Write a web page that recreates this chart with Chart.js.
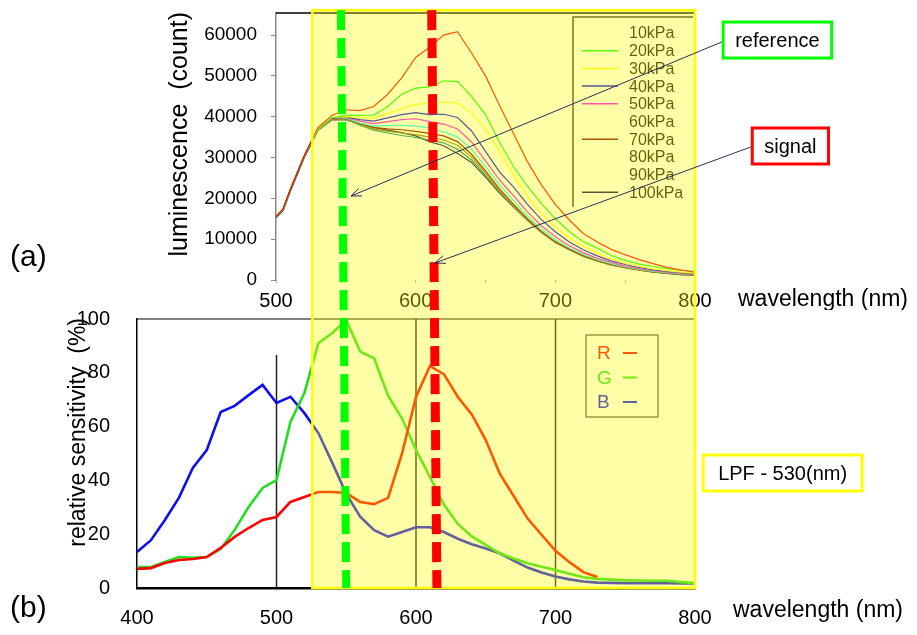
<!DOCTYPE html>
<html>
<head>
<meta charset="utf-8">
<script src="https://cdn.jsdelivr.net/npm/chart.js@4.4.1/dist/chart.umd.min.js"></script>
<style>
  html, body { margin: 0; padding: 0; background: #fff; }
  #wrap { position: relative; width: 917px; height: 635px; overflow: hidden; }
  #wrap canvas { position: absolute; left: 0; }
  #topChart { top: 0; }
  #bottomChart { top: 300px; }
  #overlay { top: 0; pointer-events: none; }
</style>
</head>
<body>
<div id="wrap">
  <canvas id="topChart" width="917" height="310"></canvas>
  <canvas id="bottomChart" width="917" height="335"></canvas>
  <canvas id="overlay" width="917" height="635"></canvas>
</div>
<script>
// (a) luminescence spectra per pressure
const wavelengthTop = [500, 505, 510, 520, 530, 540, 550, 560, 570, 580, 590, 600, 610, 620, 630, 640,
  650, 660, 670, 680, 690, 700, 710, 720, 730, 740, 750, 760, 770, 780, 790, 800];
const countTicks = [0, 10000, 20000, 30000, 40000, 50000, 60000];
const pressureLabels = ['10kPa', '20kPa', '30kPa', '40kPa', '50kPa', '60kPa', '70kPa', '80kPa', '90kPa', '100kPa'];
const pressureColors = ['#FF0000', '#00FF00', '#FFFF00', '#0000EE', '#FF00FF', '#00FFFF', '#800000', '#808000', '#008080', '#000066'];
const legendSample = [false, true, true, true, true, false, true, false, false, true];

const lum10 = [15600, 17400, 22000, 30300, 37300, 40300, 41700, 41500, 42500, 45500, 49500, 54500, 57000, 60000, 60800, 55600,
  50000, 42800, 35900, 29000, 23300, 18500, 14700, 11400, 9300, 7500, 6200, 5000, 4000, 3100, 2400, 1900];
const lum20 = [15500, 17300, 21900, 30200, 37000, 39800, 40300, 40300, 40400, 42500, 45500, 47000, 47300, 48800, 48600, 45000,
  40500, 33800, 27800, 23000, 18700, 15000, 11900, 9400, 7800, 6000, 4800, 3900, 3300, 2800, 2400, 2100];
const lum30 = [15500, 17300, 21900, 30200, 37000, 39800, 40000, 39800, 39600, 40800, 42000, 43000, 43300, 43600, 43300, 41000,
  37000, 31500, 25700, 20500, 16300, 13000, 10300, 8200, 6600, 5100, 4100, 3300, 2700, 2300, 1900, 1700];
const lum40 = [15400, 17200, 21800, 30100, 36900, 39600, 39900, 39300, 38900, 39700, 40500, 41000, 40500, 40600, 39800, 36500,
  31500, 26500, 22800, 18500, 14800, 11800, 9300, 7400, 5900, 4700, 3800, 3100, 2500, 2100, 1800, 1500];
const lum50 = [15400, 17200, 21800, 30100, 36900, 39500, 39800, 38900, 38300, 38800, 39300, 39500, 38800, 38200, 37000, 33800,
  29200, 24500, 20700, 16700, 13300, 10600, 8400, 6700, 5300, 4300, 3400, 2800, 2300, 1900, 1600, 1400];
const lum60 = [15400, 17200, 21800, 30000, 36800, 39500, 39700, 38500, 37700, 37800, 37900, 37700, 37300, 36300, 35000, 32000,
  27800, 23300, 19500, 15700, 12500, 9900, 7900, 6300, 5000, 4000, 3200, 2600, 2100, 1800, 1500, 1300];
const lum70 = [15400, 17200, 21700, 30000, 36800, 39400, 39600, 38300, 37300, 37000, 36800, 36400, 35900, 35300, 33900, 30800,
  26700, 22300, 18600, 15000, 11900, 9400, 7500, 6000, 4800, 3800, 3100, 2500, 2000, 1700, 1400, 1200];
const lum80 = [15300, 17100, 21700, 30000, 36700, 39300, 39500, 38100, 37000, 36400, 36000, 35600, 35000, 34300, 33000, 30100,
  26200, 21900, 18300, 14800, 11700, 9300, 7400, 5900, 4700, 3700, 3000, 2400, 1950, 1650, 1350, 1150];
const lum90 = [15300, 17100, 21600, 29900, 36700, 39300, 39400, 37900, 36700, 36000, 35400, 34900, 34300, 33600, 32000, 29400,
  25700, 21600, 18100, 14700, 11700, 9200, 7450, 5850, 4700, 3700, 3000, 2450, 1950, 1600, 1300, 1100];
const lum100 = [15200, 17000, 21600, 29900, 36600, 39200, 39300, 38300, 37400, 36700, 36100, 35300, 33900, 32900, 31000, 28800,
  25200, 21300, 17900, 14600, 11700, 9200, 7500, 5800, 4700, 3700, 3000, 2500, 2000, 1600, 1300, 1100];
const pressureSeries = [lum10, lum20, lum30, lum40, lum50, lum60, lum70, lum80, lum90, lum100];

// (b) relative sensitivity of the camera R/G/B channels
const wavelengthRGB = [400, 410, 420, 430, 440, 450, 460, 470, 480, 490, 500, 510, 520, 530, 540, 550, 560, 570, 580, 590,
  600, 610, 620, 630, 640, 650, 660, 670, 680, 690, 700, 710, 720, 730, 740, 750, 760, 770, 780, 790, 800];
const sensR = [7.1, 7.4, 9.3, 10.4, 10.8, 11.5, 14.9, 19, 22.3, 25.3, 26.4, 32, 33.8, 35.7, 35.7, 35.3, 32, 31.2, 33.5, 50,
  71, 82.5, 79.5, 71, 64.5, 55, 42.6, 34.2, 25.8, 19.8, 13.8, 9.6, 5.9, 4.1, null, null, null, null, null, null, null];
const sensG = [7.8, 7.8, 9.7, 11.5, 11.2, 11.5, 14.5, 21.6, 30.1, 37.2, 40.1, 61.7, 72.5, 91, 94.8, 99.6, 87.9, 85.4, 71.5, 63,
  51.3, 41.3, 31, 23.8, 19.2, 16, 12.9, 11, 9.2, 7.9, 6.7, 5.3, 4, 3.4, 3.1, 2.9, 2.8, 2.7, 2.7, 2.2, 1.8];
const sensB = [13.4, 17.8, 25.3, 33.5, 44.6, 51.3, 65.4, 67.7, 71.7, 75.5, 68.8, 71.1, 65, 57.6, 46.5, 35, 26.5, 21.5, 19.1, 20.8,
  22.6, 22.6, 20.8, 18.3, 16.3, 14.7, 12.9, 10.2, 7.6, 5.8, 4.3, 3.2, 2.4, 2, 1.9, 1.8, 1.8, 1.8, 1.8, 1.7, 1.7];
const rgbLabels = ['R', 'G', 'B'];
const rgbColors = ['#FF0000', '#22DD22', '#1010EE'];
const rgbGridNm = [500, 600, 700];
const rgbGridTop = [86.6, 100, 100];

// annotations (in data units of the charts)
const lpfRange = [526, 800];
const lpfTopCount = 66100;
const referenceNm = [546.5, 550];   // [top chart, bottom chart]
const signalNm = [611.5, 615];
const referenceBox = [859, 58780];
const referenceHead = [553.7, 20570];
const signalBox = [868.3, 32820];
const signalHead = [613.8, 4160];
const lpfBox = [862.8, 42.75];

const FONT = '"Liberation Sans", Arial, sans-serif';

function seg(ctx, x0, y0, x1, y1) {
    ctx.beginPath();
    ctx.moveTo(x0, y0);
    ctx.lineTo(x1, y1);
    ctx.stroke();
}

// rotated y title, its end lined up with the top of the plot
function yTitle(ctx, text, cx, top, size) {
    ctx.save();
    ctx.translate(cx, top);
    ctx.rotate(-Math.PI / 2);
    ctx.font = size + 'px ' + FONT;
    ctx.fillStyle = '#000';
    ctx.textAlign = 'right';
    ctx.textBaseline = 'middle';
    ctx.fillText(text, 0, 0);
    ctx.restore();
}

// the tick padding must not push the plot area down
function fixY(width) {
    return s => {
        s.width = width;
        s.paddingTop = 0;
        s.paddingBottom = 0;
    };
}

const topDecor = {
    id: 'topDecor',
    afterDraw(chart) {
        const { ctx, chartArea: a } = chart;
        ctx.save();
        ctx.strokeStyle = '#000';
        ctx.lineWidth = 1.5;
        seg(ctx, a.left, a.top, a.right, a.top);

        // legend box, only left and top edges show in the original
        const lx = a.right - 122, ly = a.top + 4;
        ctx.strokeStyle = '#333';
        ctx.beginPath();
        ctx.moveTo(lx, ly + 190);
        ctx.lineTo(lx, ly);
        ctx.lineTo(a.right - 2, ly);
        ctx.stroke();
        ctx.font = '16px ' + FONT;
        ctx.textAlign = 'left';
        ctx.textBaseline = 'middle';
        chart.data.datasets.forEach((ds, i) => {
            const y = ly + 16 + i * 17.7;
            if (legendSample[i]) {
                ctx.strokeStyle = ds.borderColor;
                ctx.lineWidth = 1.5;
                seg(ctx, lx + 9, y, lx + 45, y);
            }
            ctx.fillStyle = '#111';
            ctx.fillText(ds.label, lx + 56, y + 1);
        });

        ctx.fillStyle = '#000';
        ctx.font = '23px ' + FONT;
        ctx.fillText('wavelength (nm)', a.right + 43, a.bottom + 20);
        ctx.font = '30px ' + FONT;
        ctx.fillText('(a)', 10, 258);
        ctx.restore();
        yTitle(ctx, 'luminescence  (count)', 180, a.top - 1, 25);
    }
};

const bottomDecor = {
    id: 'bottomDecor',
    beforeDatasetsDraw(chart) {
        const { ctx, chartArea: a, scales: { x, y } } = chart;
        ctx.save();
        ctx.strokeStyle = '#000';
        ctx.lineWidth = 1;
        seg(ctx, a.left, a.top, a.right, a.top);
        ctx.strokeStyle = '#222';
        ctx.lineWidth = 1.5;
        rgbGridNm.forEach((nm, i) => {
            const px = x.getPixelForValue(nm);
            seg(ctx, px, y.getPixelForValue(rgbGridTop[i]), px, a.bottom);
        });
        ctx.restore();
    },
    afterDraw(chart) {
        const { ctx, chartArea: a } = chart;
        ctx.save();
        const lx = a.right - 109, ly = a.top + 16;
        ctx.strokeStyle = '#444';
        ctx.lineWidth = 1.2;
        ctx.strokeRect(lx, ly, 72, 82);
        ctx.font = '19px ' + FONT;
        ctx.textAlign = 'left';
        ctx.textBaseline = 'middle';
        rgbLabels.forEach((lab, i) => {
            const y = ly + 18 + i * 24.5;
            ctx.fillStyle = rgbColors[i];
            ctx.fillText(lab, lx + 11, y + 1);
            ctx.strokeStyle = rgbColors[i];
            ctx.lineWidth = 2;
            seg(ctx, lx + 37, y, lx + 51, y);
        });
        ctx.fillStyle = '#000';
        ctx.font = '23px ' + FONT;
        ctx.fillText('wavelength (nm)', a.right + 38, a.bottom + 23);
        ctx.font = '30px ' + FONT;
        ctx.fillText('(b)', 10, 309);
        ctx.restore();
        yTitle(ctx, 'relative sensitivity  (%)', 79, a.top - 1, 23);
    }
};

const topChart = new Chart(document.getElementById('topChart'), {
    type: 'line',
    data: {
        datasets: pressureSeries.map((vals, i) => ({
            label: pressureLabels[i],
            data: vals.map((v, j) => ({ x: wavelengthTop[j], y: v })),
            borderColor: pressureColors[i],
            borderWidth: 1.2,
            pointRadius: 0,
            tension: 0
        }))
    },
    options: {
        responsive: false,
        animation: false,
        layout: { padding: { left: 166, right: 222, top: 13, bottom: 0 } },
        plugins: { legend: { display: false }, tooltip: { enabled: false } },
        scales: {
            x: {
                type: 'linear', min: 500, max: 800,
                afterFit(s) { s.height = 30; },
                border: { display: false },
                grid: { drawOnChartArea: false, tickLength: 3, color: '#aaa' },
                ticks: {
                    stepSize: 50, padding: 6, maxRotation: 0, autoSkip: false, color: '#000',
                    font: { family: FONT, size: 20 },
                    callback: v => (v % 100 === 0 ? String(v) : '')
                }
            },
            y: {
                min: 0, max: 65400,
                afterFit: fixY(110),
                afterBuildTicks(s) { s.ticks = countTicks.map(v => ({ value: v })); },
                border: { color: '#888', width: 1.5 },
                grid: { drawOnChartArea: false, tickLength: 5, color: '#888' },
                ticks: { padding: 14, color: '#000', font: { family: FONT, size: 19 }, callback: v => String(v) }
            }
        }
    },
    plugins: [topDecor]
});

const bottomChart = new Chart(document.getElementById('bottomChart'), {
    type: 'line',
    data: {
        datasets: [sensR, sensG, sensB].map((vals, i) => ({
            label: rgbLabels[i],
            data: vals.map((v, j) => ({ x: wavelengthRGB[j], y: v })),
            borderColor: rgbColors[i],
            borderWidth: 2.6,
            pointRadius: 0,
            tension: 0
        }))
    },
    options: {
        responsive: false,
        animation: false,
        layout: { padding: { left: 65, right: 222, top: 19, bottom: 0 } },
        plugins: { legend: { display: false }, tooltip: { enabled: false } },
        scales: {
            x: {
                type: 'linear', min: 400, max: 800,
                afterFit(s) { s.height = 47; },
                border: { color: '#000', width: 2.5 },
                grid: { display: false },
                ticks: { stepSize: 100, padding: 10, maxRotation: 0, color: '#000', font: { family: FONT, size: 20 } }
            },
            y: {
                min: 0, max: 100,
                afterFit: fixY(72),
                border: { color: '#000', width: 1.5 },
                grid: { display: false },
                ticks: { stepSize: 20, padding: 19, color: '#000', font: { family: FONT, size: 20 } }
            }
        }
    },
    plugins: [bottomDecor]
});

// overlay: LPF band, reference/signal markers, callouts
function drawOverlay() {
    const ctx = document.getElementById('overlay').getContext('2d');
    const tx = topChart.scales.x, ty = topChart.scales.y;
    const bx = bottomChart.scales.x, by = bottomChart.scales.y;
    const off = bottomChart.canvas.offsetTop;

    const x0 = tx.getPixelForValue(lpfRange[0]);
    const x1 = tx.getPixelForValue(lpfRange[1]);
    const yTop = ty.getPixelForValue(lpfTopCount);
    const yBot = off + by.getPixelForValue(0);
    ctx.fillStyle = 'rgba(255,255,0,0.34)';
    ctx.fillRect(x0, yTop, x1 - x0, yBot - yTop);
    ctx.strokeStyle = '#FFFF00';
    ctx.lineWidth = 2.5;
    ctx.strokeRect(x0, yTop, x1 - x0, yBot - yTop);

    [[referenceNm, '#00FF00', 8], [signalNm, '#FF0000', 9]].forEach(([nm, col, w]) => {
        ctx.save();
        ctx.setLineDash([20, 8]);
        ctx.strokeStyle = col;
        ctx.lineWidth = w;
        seg(ctx, tx.getPixelForValue(nm[0]), yTop, bx.getPixelForValue(nm[1]), yBot);
        ctx.restore();
    });

    function box(cx, cy, text, color, pad) {
        ctx.font = '20px ' + FONT;
        const w = ctx.measureText(text).width + 2 * pad, h = 36;
        ctx.fillStyle = '#fff';
        ctx.fillRect(cx - w / 2, cy - h / 2, w, h);
        ctx.strokeStyle = color;
        ctx.lineWidth = 3;
        ctx.strokeRect(cx - w / 2, cy - h / 2, w, h);
        ctx.fillStyle = '#000';
        ctx.textAlign = 'center';
        ctx.textBaseline = 'middle';
        ctx.fillText(text, cx, cy + 1);
        return { left: cx - w / 2 - 1.5, cy: cy };
    }

    function arrow(xa, ya, xb, yb) {
        ctx.strokeStyle = '#2B2B5E';
        ctx.lineWidth = 1;
        seg(ctx, xa, ya, xb, yb);
        const ang = Math.atan2(yb - ya, xb - xa), L = 11, s = 0.38;
        ctx.beginPath();
        ctx.moveTo(xb - L * Math.cos(ang - s), yb - L * Math.sin(ang - s));
        ctx.lineTo(xb, yb);
        ctx.lineTo(xb - L * Math.cos(ang + s), yb - L * Math.sin(ang + s));
        ctx.stroke();
    }

    const rb = box(tx.getPixelForValue(referenceBox[0]), ty.getPixelForValue(referenceBox[1]), 'reference', '#00FF00', 12);
    const sb = box(tx.getPixelForValue(signalBox[0]), ty.getPixelForValue(signalBox[1]), 'signal', '#FF0000', 12);
    box(bx.getPixelForValue(lpfBox[0]), off + by.getPixelForValue(lpfBox[1]), 'LPF - 530(nm)', '#FFFF00', 15);

    arrow(rb.left, rb.cy + 2, tx.getPixelForValue(referenceHead[0]), ty.getPixelForValue(referenceHead[1]));
    arrow(sb.left, sb.cy + 1, tx.getPixelForValue(signalHead[0]), ty.getPixelForValue(signalHead[1]));
}

drawOverlay();
</script>
</body>
</html>
